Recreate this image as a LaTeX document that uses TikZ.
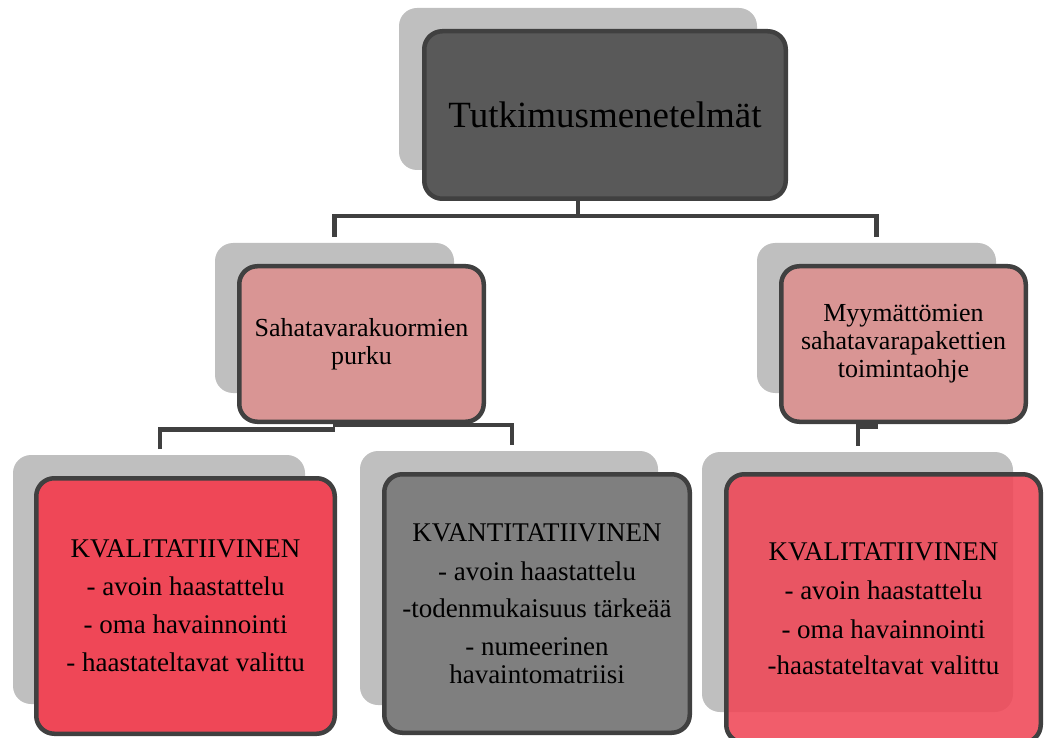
\documentclass[tikz,border=0pt]{standalone}
\usepackage{fontspec}
\setmainfont{Liberation Serif}
\definecolor{shadowgray}{HTML}{BFBFBF}
\definecolor{bordergray}{HTML}{404040}
\definecolor{topfill}{HTML}{595959}
\definecolor{midfill}{HTML}{D99594}
\definecolor{redA}{HTML}{EF4757}
\definecolor{grayB}{HTML}{7F7F7F}
\tikzset{
  backplate/.style={fill=shadowgray, draw=none, rounded corners=18pt, inner sep=0pt},
  mbox/.style={draw=bordergray, line width=4.5pt, rounded corners=18pt, inner sep=0pt, align=center, text=black},
  link/.style={draw=bordergray, line width=4.5pt},
  midtext/.style={font=\fontsize{26}{28}\selectfont},
  bottext/.style={font=\fontsize{27}{28}\selectfont},
}
\begin{document}
\begin{tikzpicture}[x=1pt,y=-1pt]
\useasboundingbox (0,0) rectangle (1045,738);
% top
\node[backplate, minimum width=358pt, minimum height=162pt] (s0) at (578,89) {};
\node[mbox, fill=topfill, minimum width=361.5pt, minimum height=167.5pt, font=\fontsize{37}{40}\selectfont] (top) at (605,115) {Tutkimusmenetelmät};
% middle
\node[backplate, minimum width=239pt, minimum height=150pt] (sL) at (334.5,318) {};
\node[mbox, midtext, fill=midfill, minimum width=244.5pt, minimum height=155.5pt] (midL) at (361.5,344) {Sahatavarakuormien\\purku};
\node[backplate, minimum width=239pt, minimum height=150pt] (sR) at (876.5,318) {};
\node[mbox, midtext, fill=midfill, minimum width=244.5pt, minimum height=155.5pt] (midR) at (903.5,344) {Myymättömien\\sahatavarapakettien\\toimintaohje};
% bottom
\node[backplate, minimum width=292pt, minimum height=249pt] (sA) at (159,579.5) {};
\node[mbox, bottext, fill=redA, minimum width=298.5pt, minimum height=255.5pt] (boxA) at (185.5,606) {KVALITATIIVINEN\\[10pt]- avoin haastattelu\\[10pt]- oma havainnointi\\[10pt]- haastateltavat valittu};
\node[backplate, minimum width=298pt, minimum height=254pt] (sB) at (509,578) {};
\node[mbox, bottext, fill=grayB, minimum width=305.5pt, minimum height=258.5pt] (boxB) at (537,603.5) {KVANTITATIIVINEN\\[11pt]- avoin haastattelu\\[9pt]-todenmukaisuus tärkeää\\[10pt]- numeerinen\\havaintomatriisi};
\node[backplate, minimum width=311pt, minimum height=260pt] (sC) at (857.5,582) {};
\node[mbox, bottext, fill=redA, fill opacity=0.88, text opacity=1, minimum width=314.5pt, minimum height=268.5pt] (boxC) at (883.5,608.5) {KVALITATIIVINEN\\[11pt]- avoin haastattelu\\[11pt]- oma havainnointi\\[8pt]-haastateltavat valittu};
% connectors
\coordinate (jT) at (578,216);
\coordinate (eL) at (334.5,237);
\coordinate (eR) at (876.5,237);
\draw[link] (s0.center |- top.south) -- (jT);
\draw[link] (eL) |- (jT) -| (eR);
\coordinate (jL1) at (335,429.5);
\coordinate (jL2) at (333,425);
\coordinate (eA) at (160,449);
\coordinate (eB) at (512,445);
\draw[link] (eA) |- (jL1);
\draw[link] (jL2) -| (eB);
\coordinate (jR) at (878,426.5);
\coordinate (eC) at (858,446);
\draw[link] (jR) -| (eC);
\end{tikzpicture}
\end{document}
